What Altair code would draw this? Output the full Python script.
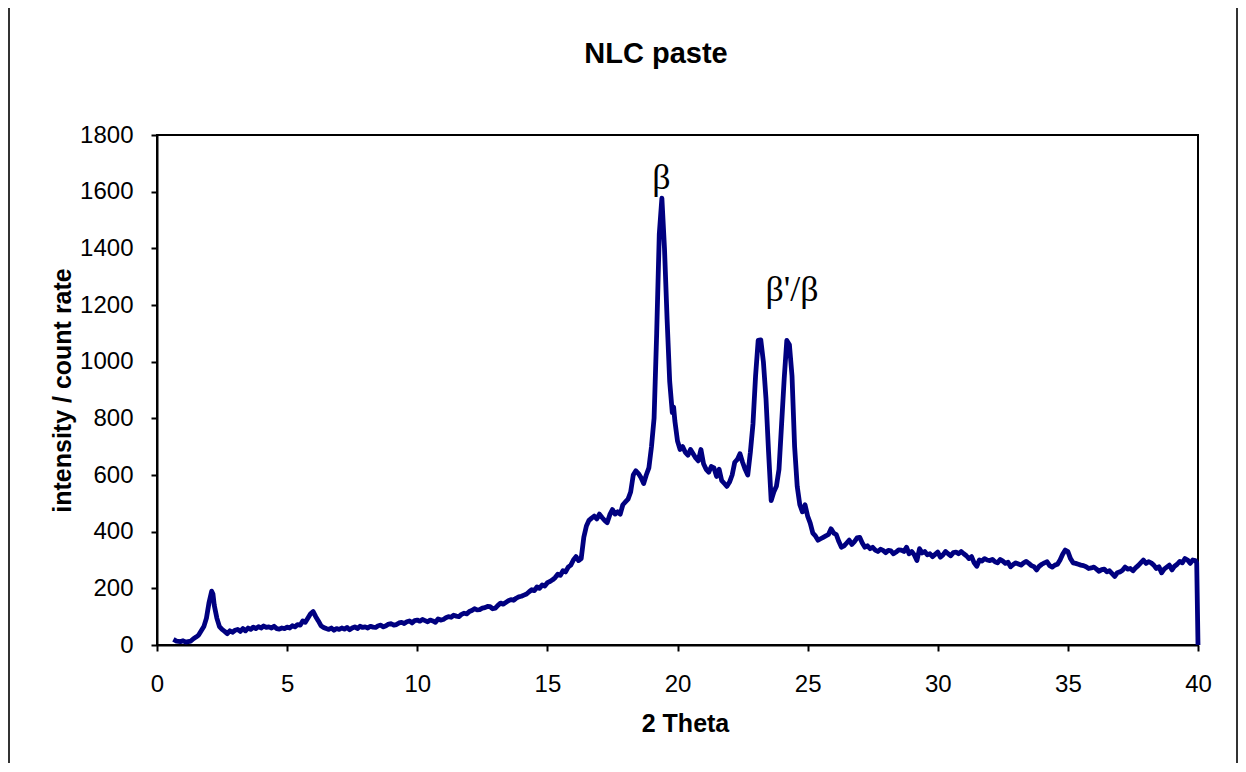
import altair as alt
import pandas as pd

theta = [0.63,0.75,0.9,1.0,1.1,1.2,1.3,1.4,1.5,1.6,1.7,1.8,1.9,2.0,2.1,2.15,2.2,2.3,2.4,2.5,2.6,2.7,2.8,2.9,
         3.0,3.1,3.2,3.3,3.4,3.5,3.6,3.7,3.8,3.9,4.0,4.1,4.2,4.3,4.4,4.5,4.6,4.7,4.8,4.9,
         5.0,5.1,5.2,5.3,5.4,5.5,5.6,5.7,5.8,5.9,6.0,6.1,6.2,6.3,6.4,6.5,6.6,6.7,6.8,6.9,
         7.0,7.1,7.2,7.3,7.4,7.5,7.6,7.7,7.8,7.9,8.0,8.1,8.2,8.3,8.4,8.5,8.6,8.7,8.8,8.9,9.0,9.1,9.2,9.3,9.4,9.5,9.6,9.7,9.8,9.9,
         10.0,10.1,10.2,10.3,10.4,10.5,10.6,10.7,10.8,10.9,11.0,11.1,11.2,11.3,11.4,11.5,11.6,11.7,11.8,11.9,
         12.0,12.1,12.2,12.3,12.4,12.5,12.6,12.7,12.8,12.9,13.0,13.1,13.2,13.3,13.4,13.5,13.6,13.7,13.8,13.9,
         14.0,14.1,14.2,14.3,14.4,14.5,14.6,14.7,14.8,14.9,15.0,15.1,15.2,15.3,15.4,15.5,15.6,15.7,15.8,15.9,
         16.0,16.1,16.2,16.3,16.4,16.5,16.6,16.7,16.8,16.9,
         17.0,17.1,17.2,17.3,17.4,17.5,17.6,17.7,17.8,17.9,18.0,18.1,18.2,18.3,18.4,18.5,18.6,18.7,18.8,18.9,
         19.0,19.1,19.2,19.3,19.4,19.5,19.6,19.7,19.8,19.85,19.9,20.0,20.1,20.2,20.3,20.4,20.5,20.6,20.7,20.8,20.9,
         21.0,21.1,21.2,21.3,21.4,21.5,21.6,21.7,21.8,21.9,22.0,22.1,22.2,22.3,22.4,22.5,22.6,22.7,22.8,22.9,
         23.0,23.1,23.2,23.3,23.4,23.5,23.6,23.7,23.8,23.9,24.0,24.1,24.2,24.3,24.4,24.5,24.6,24.7,24.8,24.9,
         25.0,25.1,25.2,25.3,25.4,25.5,25.6,25.7,25.8,25.9,26.0,26.1,26.2,26.3,26.4,26.5,26.6,26.7,26.8,26.9,
         27.0,27.1,27.2,27.3,27.4,27.5,27.6,27.7,27.8,27.9,28.0,28.1,28.2,28.3,28.4,28.5,28.6,28.7,28.8,28.9,
         29.0,29.1,29.2,29.3,29.4,29.5,29.6,29.7,29.8,29.9,30.0,30.1,30.2,30.3,30.4,30.5,30.6,30.7,30.8,30.9,
         31.0,31.1,31.2,31.3,31.4,31.5,31.6,31.7,31.8,31.9,32.0,32.1,32.2,32.3,32.4,32.5,32.6,32.7,32.8,32.9,
         33.0,33.1,33.2,33.3,33.4,33.5,33.6,33.7,33.8,33.9,34.0,34.1,34.2,34.3,34.4,34.5,34.6,34.7,34.8,34.9,
         35.0,35.1,35.2,35.3,35.4,35.5,35.6,35.7,35.8,35.9,36.0,36.1,36.2,36.3,36.4,36.5,36.6,36.7,36.8,36.9,
         37.0,37.1,37.2,37.3,37.4,37.5,37.6,37.7,37.8,37.9,38.0,38.1,38.2,38.3,38.4,38.5,38.6,38.7,38.8,38.9,
         39.0,39.1,39.2,39.3,39.4,39.5,39.6,39.7,39.8,39.9,39.95,40.0]

intensity = [20,14,12,15,10,12,14,22,28,35,50,65,95,150,190,180,140,95,65,55,48,40,50,45,
             52,55,48,58,50,60,55,63,58,65,60,67,62,64,60,66,58,56,60,58,
             63,60,68,64,72,70,85,80,95,110,118,100,85,68,62,58,55,60,52,58,
             55,60,56,62,54,60,64,58,66,62,64,60,66,63,62,68,70,64,68,74,75,70,72,78,80,76,82,85,78,86,
             88,84,90,86,82,88,85,80,92,88,90,96,100,98,105,102,100,108,112,110,
             118,122,128,124,125,130,132,136,135,128,130,140,148,144,150,156,160,158,165,170,
             172,176,180,188,195,192,205,200,212,208,220,224,230,238,250,246,262,258,275,282,
             300,312,298,305,380,420,440,448,455,445,
             462,450,440,432,460,478,462,470,462,495,505,515,540,600,615,605,590,570,600,625,
             700,800,1100,1450,1577,1400,1150,930,820,840,790,720,690,700,680,670,690,675,660,650,690,
             640,620,610,630,625,595,620,580,570,560,575,600,645,655,675,645,620,600,680,780,
             950,1075,1077,1000,870,680,510,540,560,620,780,940,1075,1060,950,700,560,495,470,495,
             455,430,395,385,370,375,380,385,390,410,395,390,365,345,350,360,370,355,365,378,
             380,360,345,350,340,345,335,330,338,334,326,334,332,322,328,336,335,330,345,322,
             330,318,298,340,325,330,318,322,312,320,328,310,318,330,322,315,326,328,322,330,
             322,315,305,312,290,278,300,296,305,300,298,302,294,290,302,296,288,292,276,284,
             290,286,282,290,295,288,280,276,265,278,285,290,294,280,275,282,285,300,320,335,
             330,305,290,288,285,282,280,276,270,272,275,268,260,266,268,258,262,252,242,255,
             258,264,275,268,270,262,272,280,290,300,288,294,290,282,270,276,255,268,275,282,
             265,278,285,295,290,305,300,288,300,298,290,0]

ann_text = ["β", "β'/β"]
ann_x = [19.38, 24.4]
ann_y = [1648, 1253]

df = pd.DataFrame({"theta": theta, "intensity": intensity})
ann = pd.DataFrame({"label": ann_text, "x": ann_x, "y": ann_y})

W, H = 1041, 510
FONT = "Liberation Sans"

xscale = alt.Scale(domain=[0, 40], nice=False, zero=False)
yscale = alt.Scale(domain=[0, 1800], nice=False)

line = alt.Chart(df).mark_line(color="#000080", strokeWidth=4.8, strokeJoin="round", clip=False).encode(
    x=alt.X("theta:Q", scale=xscale,
            axis=alt.Axis(values=list(range(0, 41, 5)), title="2 Theta", grid=False, format="d",
                          labelFlush=False,
                          labelFontSize=24, labelFont=FONT, labelColor="black", labelPadding=21,
                          tickSize=6, tickColor="black", tickWidth=2,
                          domainColor="black", domainWidth=2,
                          titleFont=FONT, titleFontSize=25, titleFontWeight="bold", titleColor="black",
                          titleX=528, titleY=78, titleBaseline="middle", titleAlign="center")),
    y=alt.Y("intensity:Q", scale=yscale,
            axis=alt.Axis(values=list(range(0, 1801, 200)), title="intensity / count rate", grid=False, format="d",
                          labelFlush=False,
                          labelFontSize=24, labelFont=FONT, labelColor="black", labelPadding=18,
                          tickSize=6, tickColor="black", tickWidth=2,
                          domainColor="black", domainWidth=2,
                          titleFont=FONT, titleFontSize=25, titleFontWeight="bold", titleColor="black",
                          titleX=-95, titleY=255, titleAngle=270, titleBaseline="middle", titleAlign="center")),
)

labels = alt.Chart(ann).mark_text(font="Liberation Serif", fontSize=36, color="black", baseline="middle").encode(
    x=alt.X("x:Q", scale=xscale), y=alt.Y("y:Q", scale=yscale), text="label:N"
)

title_df = pd.DataFrame({"t": ["NLC paste"]})
title = alt.Chart(title_df).mark_text(font=FONT, fontSize=29, fontWeight="bold", color="black",
                                      baseline="middle", align="center").encode(
    x=alt.value(499), y=alt.value(-81), text="t:N"
)

frame_df = pd.DataFrame({"k": [1]})
left_border = alt.Chart(frame_df).mark_rule(color="#333333", strokeWidth=2).encode(
    x=alt.value(-148), y=alt.value(-128), y2=alt.value(640))
right_border = alt.Chart(frame_df).mark_rule(color="#333333", strokeWidth=2).encode(
    x=alt.value(1080), y=alt.value(-128), y2=alt.value(640))
top_border = alt.Chart(frame_df).mark_rule(color="#dddddd", strokeWidth=1).encode(
    x=alt.value(-148), x2=alt.value(1080), y=alt.value(-128))

chart = alt.layer(line, labels, title, left_border, right_border, top_border).properties(
    width=W, height=H,
    autosize=alt.AutoSizeParams(type="none"),
    padding={"left": 149, "top": 127, "right": 40, "bottom": 118},
).configure_view(stroke="black", strokeWidth=2)

chart.save("out.html", embed_options={"renderer": "svg", "actions": False})
